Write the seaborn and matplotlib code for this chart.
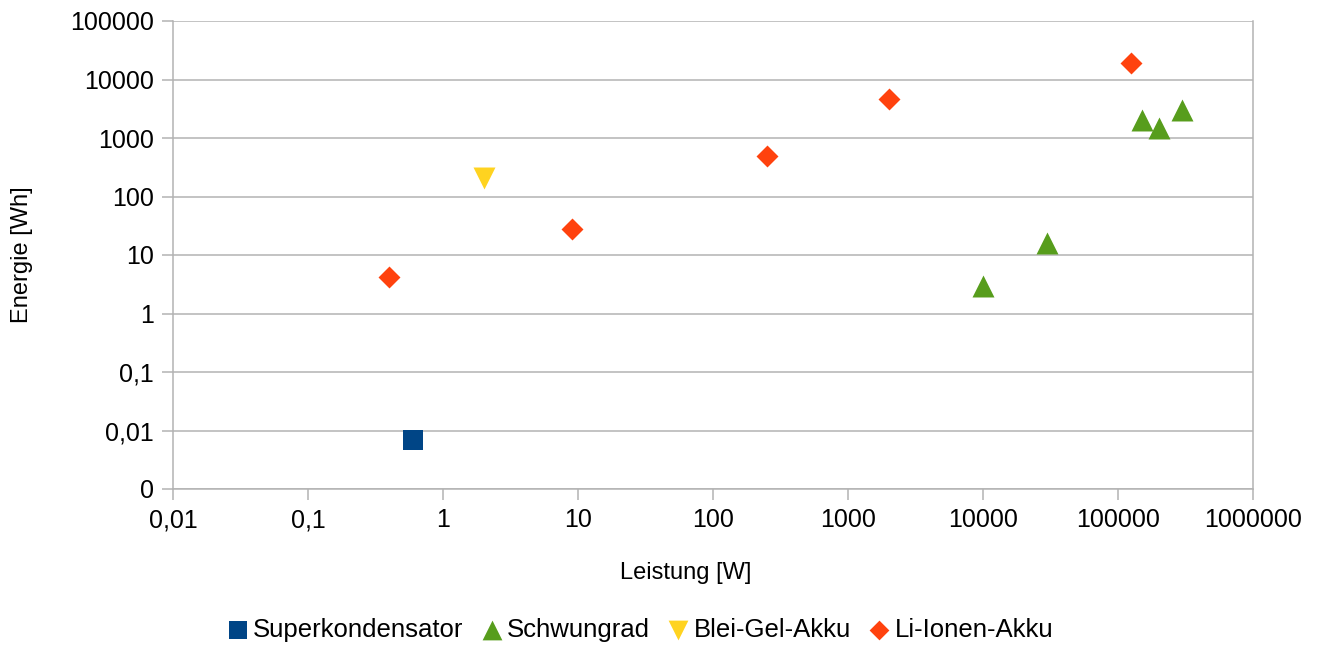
import matplotlib
matplotlib.use("Agg")
import matplotlib.pyplot as plt
import seaborn as sns
import pandas as pd

# --- data ---
series_names = ["Superkondensator", "Schwungrad", "Blei-Gel-Akku", "Li-Ionen-Akku"]
super_power = [0.6]
super_energy = [0.007]
schwung_power = [10000, 30000, 150000, 200000, 300000]
schwung_energy = [3, 16, 2000, 1500, 3000]
blei_power = [2]
blei_energy = [210]
li_power = [0.4, 9, 250, 2000, 125000]
li_energy = [4.2, 28, 500, 4700, 19500]

x_ticks = [0.01, 0.1, 1, 10, 100, 1000, 10000, 100000, 1000000]
x_tick_labels = ["0,01", "0,1", "1", "10", "100", "1000", "10000", "100000", "1000000"]
y_ticks = [0.001, 0.01, 0.1, 1, 10, 100, 1000, 10000, 100000]
y_tick_labels = ["0", "0,01", "0,1", "1", "10", "100", "1000", "10000", "100000"]

rows = []
for name, xs, ys in [("Superkondensator", super_power, super_energy),
                     ("Schwungrad", schwung_power, schwung_energy),
                     ("Blei-Gel-Akku", blei_power, blei_energy),
                     ("Li-Ionen-Akku", li_power, li_energy)]:
    for x, y in zip(xs, ys):
        rows.append({"Leistung": x, "Energie": y, "Serie": name})
df = pd.DataFrame(rows)

palette = {"Superkondensator": "#004586", "Schwungrad": "#579d1c",
           "Blei-Gel-Akku": "#ffd320", "Li-Ionen-Akku": "#ff420e"}
markers = {"Superkondensator": "s", "Schwungrad": "^",
           "Blei-Gel-Akku": "v", "Li-Ionen-Akku": "D"}
sizes_map = {"Superkondensator": 195, "Schwungrad": 250,
             "Blei-Gel-Akku": 250, "Li-Ionen-Akku": 125}

sns.set_theme(style="white")
plt.rcParams['font.family'] = ['Liberation Sans', 'DejaVu Sans']
plt.rcParams['text.color'] = 'black'

fig = plt.figure(figsize=(13.21, 6.48), dpi=100)
ax = fig.add_axes([173/1321, 1-489/648, 1080/1321, 468/648])

for name in series_names:
    sub = df[df["Serie"] == name]
    sns.scatterplot(data=sub, x="Leistung", y="Energie", ax=ax,
                    color=palette[name], marker=markers[name],
                    s=sizes_map[name], linewidth=0, label=name, zorder=3)

ax.set_xscale("log")
ax.set_yscale("log")
ax.set_xlim(0.01, 1000000)
ax.set_ylim(0.001, 100000)
ax.set_xticks(x_ticks)
ax.set_xticklabels(x_tick_labels)
ax.set_yticks(y_ticks)
ax.set_yticklabels(y_tick_labels)
ax.minorticks_off()

gc = "#b3b3b3"
ax.yaxis.grid(True, color=gc, linewidth=1.1, zorder=0)
ax.xaxis.grid(False)
ax.set_axisbelow(True)
for side in ["left", "bottom", "right"]:
    ax.spines[side].set_color(gc)
    ax.spines[side].set_linewidth(1.1)
ax.spines["top"].set_visible(False)
ax.tick_params(axis="both", which="major", direction="out", length=8,
               width=1.1, color=gc, labelsize=18, labelcolor="black", pad=6,
               left=True, bottom=True, right=False, top=False)

ax.set_xlabel("Leistung [W]", fontsize=17, color="black")
ax.set_ylabel("Energie [Wh]", fontsize=17, color="black")
ax.xaxis.set_label_coords((686-173)/1080, (489-573)/468)
ax.yaxis.set_label_coords((22-173)/1080, 0.5)
ax.xaxis.label.set_va("center")
ax.yaxis.label.set_va("center")

handles, labels = ax.get_legend_handles_labels()
if ax.legend_:
    ax.legend_.remove()
leg = fig.legend(handles, labels, loc="center", ncol=4,
                 bbox_to_anchor=(641/1321, 1-630/648), frameon=False,
                 fontsize=18.5, handletextpad=0.25, columnspacing=0.75,
                 markerscale=0.9, handlelength=0.7, labelcolor="black")

fig.savefig("out.png", dpi=100, facecolor="white")
